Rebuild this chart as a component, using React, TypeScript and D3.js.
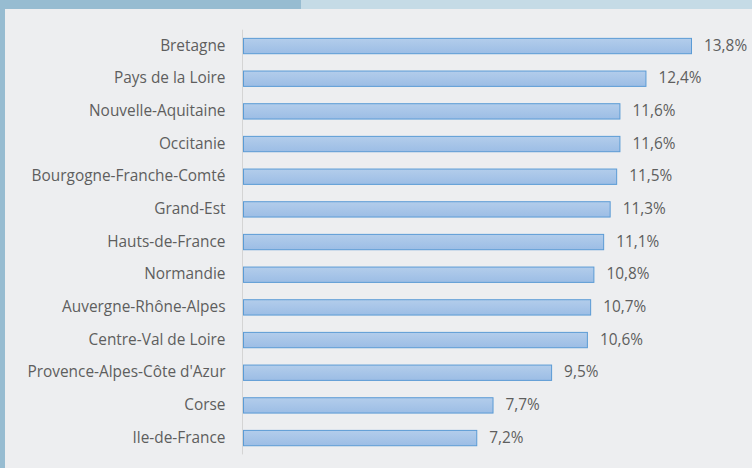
import React from "react";
import * as d3 from "d3";

const categories = [
  "Bretagne",
  "Pays de la Loire",
  "Nouvelle-Aquitaine",
  "Occitanie",
  "Bourgogne-Franche-Comté",
  "Grand-Est",
  "Hauts-de-France",
  "Normandie",
  "Auvergne-Rhône-Alpes",
  "Centre-Val de Loire",
  "Provence-Alpes-Côte d'Azur",
  "Corse",
  "Ile-de-France",
];
const values = [13.8, 12.4, 11.6, 11.6, 11.5, 11.3, 11.1, 10.8, 10.7, 10.6, 9.5, 7.7, 7.2];

const W = 752;
const H = 468;

export default function App() {
  const x = d3.scaleLinear().domain([0, 13.8]).range([243, 692]);
  const y = d3
    .scaleBand<string>()
    .domain(categories)
    .range([29.7, 454.4])
    .paddingInner(0.5)
    .paddingOuter(0.25);
  const fmt = (v: number) => d3.format(".1f")(v).replace(".", ",") + "%";
  const font = "'Open Sans', 'Noto Sans', sans-serif";
  const fs = 15.4;
  return (
    <div style={{ position: "absolute", left: 0, top: 0 }}>
      <svg width={W} height={H} style={{ display: "block" }}>
        <defs>
          <linearGradient id="barGrad" x1="0" y1="0" x2="0" y2="1">
            <stop offset="0" stopColor="#B3CDEB" />
            <stop offset="1" stopColor="#9CBDE5" />
          </linearGradient>
        </defs>
        <rect x={0} y={0} width={W} height={H} fill="#EDEEF0" />
        <rect x={0} y={0} width={301} height={9} fill="#97BCD1" />
        <rect x={301} y={0} width={W - 301} height={9} fill="#C5DBE6" />
        <rect x={0} y={0} width={5} height={H} fill="#97BCD1" />
        <line x1={242.5} x2={242.5} y1={y.range()[0]} y2={y.range()[1]} stroke="#D4D4D4" strokeWidth={1} />
        {categories.map((c, i) => {
          const by = y(c)!;
          const bh = y.bandwidth();
          return (
            <g key={c}>
              <rect
                x={x(0) + 0.5}
                y={by + 0.5}
                width={x(values[i]) - x(0) - 1}
                height={bh - 1}
                fill="url(#barGrad)"
                stroke="#5B9BD5"
                strokeWidth={1}
              />
              <text
                x={225.5}
                y={by + bh / 2}
                dy="0.3em"
                textAnchor="end"
                fontFamily={font}
                fontSize={fs}
                fill="#5E5E5E"
              >
                {c}
              </text>
              <text
                x={x(values[i]) + 12}
                y={by + bh / 2}
                dy="0.3em"
                textAnchor="start"
                fontFamily={font}
                fontSize={fs}
                fill="#5E5E5E"
              >
                {fmt(values[i])}
              </text>
            </g>
          );
        })}
      </svg>
    </div>
  );
}
